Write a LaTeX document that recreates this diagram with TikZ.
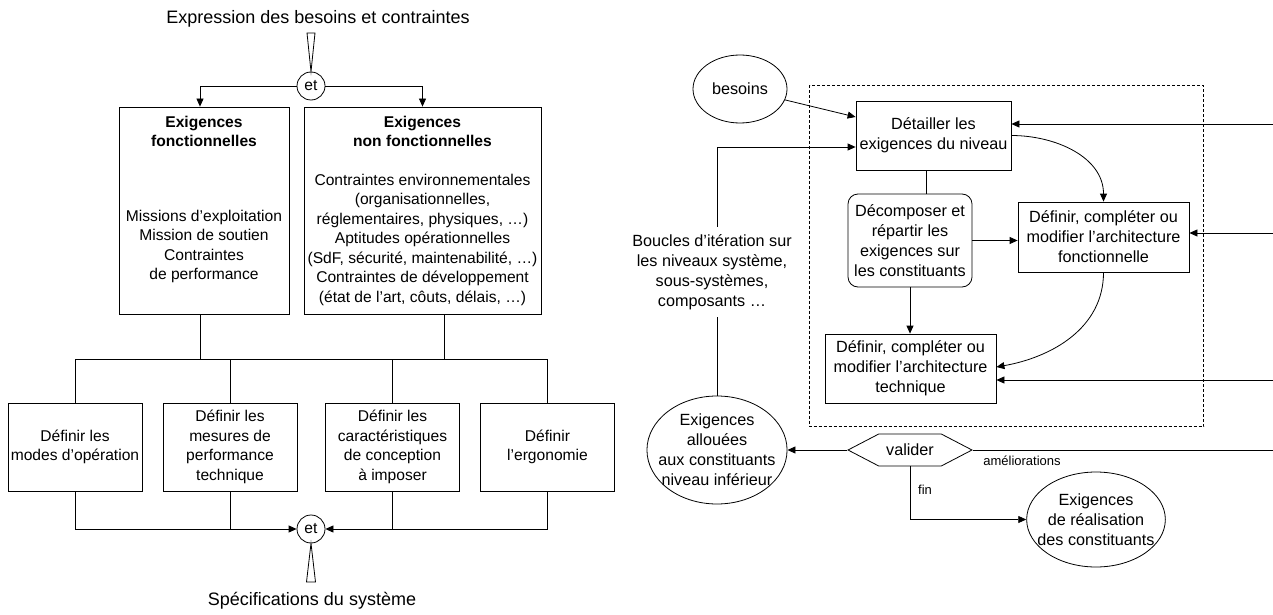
\documentclass[tikz,border=0pt]{standalone}
\usepackage{fontspec}
\setmainfont{Liberation Sans}
\usetikzlibrary{arrows.meta,shapes.geometric,shapes.symbols}

\tikzset{
  txt/.style={font=\fontsize{15.6}{19.5}\selectfont, align=center},
  txtd/.style={font=\fontsize{16.2}{20}\selectfont},
  bloc/.style={txt, draw, rectangle, inner sep=0pt},
  rond/.style={txt, draw, ellipse, inner sep=0pt},
  et/.style={txt, draw, circle, minimum size=28pt, inner sep=0pt},
  petit/.style={font=\fontsize{13}{15}\selectfont},
  grand/.style={font=\fontsize{18}{22}\selectfont},
}

\begin{document}
\begin{tikzpicture}[x=1pt, y=-1pt, line width=0.8pt, >={Triangle[length=8pt,width=7pt]}]
\useasboundingbox (0,0) rectangle (1273,615);

% left part: from the needs to the specifications
\node [grand] (expr) at (318,19) {Expression des besoins et contraintes};
\node [et] (et1) at (311,86) {et};
\coordinate (c1) at (307,33);
\coordinate (c2) at (315,33);
\draw (c1) -- (c2) -- (et1.north) -- cycle;

  % the two kinds of requirements
\node [bloc, minimum width=170pt, minimum height=207pt] (fonc) at (204,210.5)
  {\parbox[c][207pt][t]{168pt}{\centering\vspace{9pt}\textbf{Exigences}\\\textbf{fonctionnelles}\\[55pt]Missions d’exploitation\\Mission de soutien\\Contraintes\\de performance}};
\node [bloc, minimum width=237pt, minimum height=207pt] (nonfonc) at (422.5,210.5)
  {\textbf{Exigences}\\\textbf{non fonctionnelles}\\[19pt]Contraintes environnementales\\(organisationnelles,\\réglementaires, physiques, …)\\Aptitudes opérationnelles\\(SdF, sécurité, maintenabilité, …)\\Contraintes de développement\\(état de l’art, côuts, délais, …)};

\draw [->] (et1.west) -| ([xshift=-4pt]fonc.north);
\draw [->] (et1.east) -| (nonfonc.north);

  % the four activities
\node [bloc, minimum width=134pt, minimum height=88pt] (mode) at (75,447) {Définir les\\modes d’opération};
\node [bloc, minimum width=134pt, minimum height=88pt] (perf) at (230,447) {Définir les\\mesures de\\performance\\technique};
\node [bloc, minimum width=134pt, minimum height=88pt] (conc) at (392.5,447) {Définir les\\caractéristiques\\de conception\\à imposer};
\node [bloc, minimum width=134pt, minimum height=88pt] (ergo) at (547.5,447) {Définir\\l’ergonomie};

\coordinate (bus) at (0,359);
\draw ([xshift=-4pt]fonc.south) -- ([xshift=-4pt]fonc.south |- bus);
\draw ([xshift=21.5pt]nonfonc.south) -- ([xshift=21.5pt]nonfonc.south |- bus);
\draw (mode.north) |- (bus -| ergo.north) -- (ergo.north);
\draw (perf.north) -- (perf.north |- bus);
\draw (conc.north) -- (conc.north |- bus);

  % and again: the specifications
\node [et] (et2) at (311,529) {et};
\draw [->] (mode.south) |- (et2.west);
\draw (perf.south) -- (perf.south |- et2.west);
\draw [->] (ergo.south) |- (et2.east);
\draw (conc.south) -- (conc.south |- et2.east);
\coordinate (c3) at (306.5,582);
\coordinate (c4) at (315.5,582);
\draw (et2.south) -- (c3) -- (c4) -- cycle;
\node [grand] (spec) at (312,601) {Spécifications du système};

% right part: one level of the iteration
\draw [dashed, dash pattern=on 3pt off 2pt] (809.5,85.5) rectangle (1203.5,426.5);

\node [rond, txtd, minimum width=94pt, minimum height=68pt] (besoins) at (740,89) {besoins};
\node [bloc, txtd, minimum width=155pt, minimum height=69pt] (detail) at (933.5,135.5) {Détailler les\\exigences du niveau};
\node [bloc, txtd, rounded corners=10pt, minimum width=124pt, minimum height=93pt] (decomp) at (910,240.5) {Décomposer et\\répartir les\\exigences sur\\les constituants};
\node [bloc, txtd, minimum width=171pt, minimum height=70pt] (fonct) at (1103.5,237) {Définir, compléter ou\\modifier l’architecture\\fonctionnelle};
\node [bloc, txtd, minimum width=171pt, minimum height=69pt] (techn) at (910.5,368.5) {Définir, compléter ou\\modifier l’architecture\\technique};

\draw [->] (besoins) -- ([yshift=18.5pt]detail.west);
\draw (detail.south -| 926,0) -- (decomp.north -| 926,0);
\draw [->] (decomp.east) -- (decomp.east -| fonct.west);
\draw [->] (decomp.south) -- (techn.north -| decomp.south);
\draw [->] (detail.east) to [out=0, in=90] (fonct.north);
\draw [->] (fonct.south) to [out=-90, in=10] ([yshift=1.5pt]techn.east);

  % returns coming from the right
\coordinate (r1) at (1273,124);
\coordinate (r2) at (1273,233);
\coordinate (r3) at (1273,380);
\draw [->] (r1) -- (r1 -| detail.east);
\draw [->] (r2) -- (r2 -| fonct.east);
\draw [->] (r3) -- (r3 -| techn.east);

  % loop over the levels
\node [txt, txtd, inner sep=7pt] (boucles) at (712,272) {Boucles d’itération sur\\les niveaux système,\\sous-systèmes,\\composants …};
\node [rond, txtd, inner xsep=-9pt, minimum width=140pt, minimum height=108pt] (alloc) at (717,450) {Exigences\\allouées\\aux constituants\\niveau inférieur};
\draw [->] ([xshift=5pt]boucles.north) |- ([yshift=-11.5pt]detail.west);
\draw ([xshift=5pt]boucles.south) -- (alloc.north);

  % validation
\node [txt, txtd, draw, signal, signal to=east and west, signal pointer angle=55, minimum width=124pt, minimum height=32pt, inner sep=0pt] (valider) at (910,450) {valider};
\node [rond, txtd, inner xsep=-9.5pt, minimum width=138pt, minimum height=95pt] (realis) at (1096,519.5) {Exigences\\de réalisation\\des constituants};
\coordinate (amel) at (1273,450);
\draw [->] (valider.west) -- (alloc.east);
\draw (valider.east) -- (amel);
\node [petit] (ameltxt) at (1022,461) {améliorations};
\draw [->] (valider.south) |- (realis.west);
\node [petit] (fintxt) at (925,490) {fin};

\end{tikzpicture}
\end{document}
